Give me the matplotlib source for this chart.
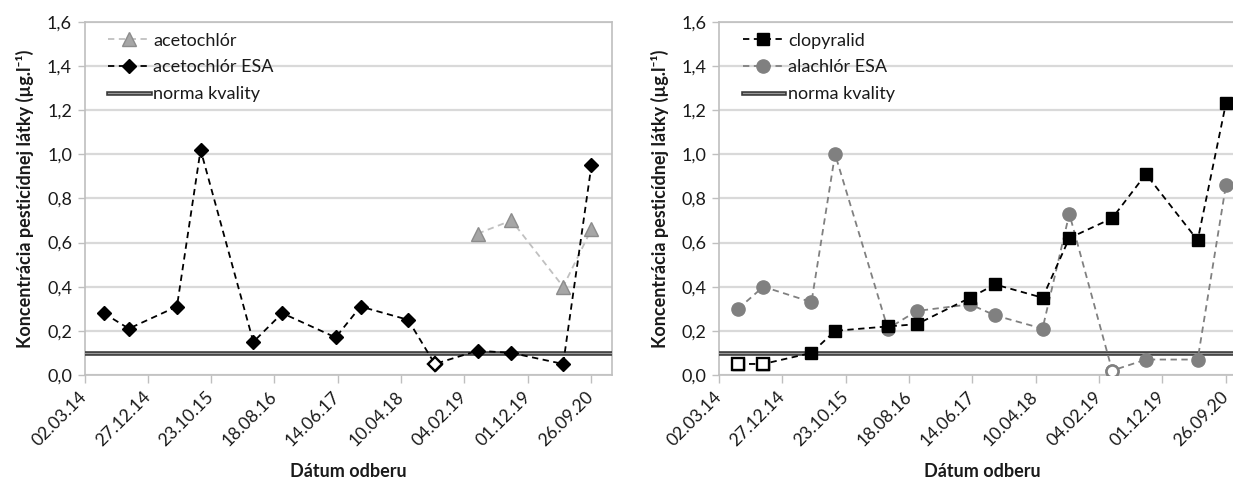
import numpy as np
import matplotlib
matplotlib.use("Agg")
import matplotlib.pyplot as plt
import matplotlib.dates as mdates
import matplotlib.patheffects as pe
from matplotlib.ticker import FuncFormatter, FixedLocator

plt.rcParams['font.family'] = ['Lato', 'DejaVu Sans']

# ---------------- data ----------------
dates = ['2014-06-01', '2014-09-28', '2015-05-14', '2015-09-03', '2016-05-10',
         '2016-09-24', '2017-06-04', '2017-09-30', '2018-05-13', '2018-09-17',
         '2019-04-08', '2019-09-15', '2020-05-17', '2020-09-28']

acetochlor = [np.nan] * 10 + [0.64, 0.70, 0.40, 0.66]
acetochlor_esa = [0.28, 0.21, 0.31, 1.02, 0.15, 0.28, 0.17, 0.31, 0.25, 0.05,
                  0.11, 0.10, 0.05, 0.95]
acetochlor_esa_hollow = [9]

clopyralid = [0.05, 0.05, 0.10, 0.20, 0.22, 0.23, 0.35, 0.41, 0.35, 0.62,
              0.71, 0.91, 0.61, 1.23]
clopyralid_hollow = [0, 1]
alachlor_esa = [0.30, 0.40, 0.33, 1.00, 0.21, 0.29, 0.32, 0.27, 0.21, 0.73,
                0.02, 0.07, 0.07, 0.86]
alachlor_esa_hollow = [10]

norma = 0.1
tick_labels = ['02.03.14', '27.12.14', '23.10.15', '18.08.16', '14.06.17',
               '10.04.18', '04.02.19', '01.12.19', '26.09.20']
y_ticks = [0.0, 0.2, 0.4, 0.6, 0.8, 1.0, 1.2, 1.4, 1.6]

ylabel = 'Koncentrácia pesticídnej látky (µg.l⁻¹)'
xlabel = 'Dátum odberu'

# ---------------- helpers ----------------
x = mdates.date2num(np.array(dates, dtype='datetime64[D]'))
start = mdates.date2num(np.datetime64('2014-03-02'))
tick_pos = [start + 300 * i for i in range(len(tick_labels))]
xmax = start + 2498

W, H = 1233, 483
fig = plt.figure(figsize=(W / 100, H / 100), dpi=100)

ax_w = 527.2 / W
ax_h = (375 - 21.7) / H
ax_b = (483 - 375) / H
axL = fig.add_axes([84.5 / W, ax_b, ax_w, ax_h])
axR = fig.add_axes([719 / W, ax_b, ax_w, ax_h])

grid_c = '#d9d9d9'
spine_c = '#bfbfbf'
text_c = '#1a1a1a'
dash = (0, (3.5, 2.5))
FS = 13


def style(ax):
    ax.set_xlim(start, xmax)
    ax.set_ylim(0, 1.6)
    ax.xaxis.set_major_locator(FixedLocator(tick_pos))
    ax.set_xticklabels(tick_labels, rotation=45, ha='right', va='center',
                       rotation_mode='anchor', fontsize=12.7, color=text_c)
    ax.set_yticks(y_ticks)
    ax.yaxis.set_major_formatter(FuncFormatter(lambda v, p: f'{v:.1f}'.replace('.', ',')))
    ax.tick_params(axis='y', labelsize=FS, length=5, color=spine_c, width=1,
                   labelcolor=text_c, pad=4)
    ax.tick_params(axis='x', length=6, color=spine_c, width=1, pad=8)
    for s in ax.spines.values():
        s.set_color(spine_c)
        s.set_linewidth(1.2)
    ax.grid(axis='y', color=grid_c, linewidth=1.6)
    ax.set_axisbelow(True)
    ax.set_xlabel(xlabel, fontsize=FS, fontweight='bold', labelpad=10, color=text_c)
    ax.set_ylabel(ylabel, fontsize=FS, fontweight='bold', labelpad=9, color=text_c)


def norm_line(ax):
    ln, = ax.plot([start, xmax], [norma, norma], color='#9a9a9a', linewidth=0.9,
                  label='norma kvality', zorder=3,
                  path_effects=[pe.Stroke(linewidth=3.3, foreground='#3a3a3a'), pe.Normal()])
    return ln


def add_legend(ax, handles):
    leg = ax.legend(handles=handles, loc='upper left', bbox_to_anchor=(0.021, 1.005),
                    frameon=False, fontsize=FS, handlelength=2.3, handletextpad=0.2,
                    labelspacing=0.6, borderaxespad=0.3)
    for t in leg.get_texts():
        t.set_color(text_c)


# ---------------- left chart ----------------
style(axL)
h1, = axL.plot(x, acetochlor, linestyle=dash, color='#c0c0c0', linewidth=1.3,
               marker='^', markersize=10.5, markerfacecolor='#a6a6a6',
               markeredgecolor='#8c8c8c', markeredgewidth=1.0, label='acetochlór', zorder=4)
h2, = axL.plot(x, acetochlor_esa, linestyle=dash, color='black', linewidth=1.3,
               marker='D', markersize=7.5, markerfacecolor='black',
               markeredgecolor='black', label='acetochlór ESA', zorder=5)
for i in acetochlor_esa_hollow:
    axL.plot([x[i]], [acetochlor_esa[i]], linestyle='none', marker='D', markersize=7.3,
             markerfacecolor='white', markeredgecolor='black', markeredgewidth=1.7, zorder=6)
h3 = norm_line(axL)
add_legend(axL, [h1, h2, h3])

# ---------------- right chart ----------------
style(axR)
g1, = axR.plot(x, clopyralid, linestyle=dash, color='black', linewidth=1.3,
               marker='s', markersize=9, markerfacecolor='black',
               markeredgecolor='black', label='clopyralid', zorder=5)
for i in clopyralid_hollow:
    axR.plot([x[i]], [clopyralid[i]], linestyle='none', marker='s', markersize=8.5,
             markerfacecolor='white', markeredgecolor='black', markeredgewidth=1.7, zorder=6)
g2, = axR.plot(x, alachlor_esa, linestyle=dash, color='#808080', linewidth=1.3,
               marker='o', markersize=9.5, markerfacecolor='#808080',
               markeredgecolor='#808080', label='alachlór ESA', zorder=4)
for i in alachlor_esa_hollow:
    axR.plot([x[i]], [alachlor_esa[i]], linestyle='none', marker='o', markersize=8.5,
             markerfacecolor='white', markeredgecolor='#808080', markeredgewidth=1.7, zorder=6)
g3 = norm_line(axR)
add_legend(axR, [g1, g2, g3])

fig.savefig('out.png', dpi=100)
